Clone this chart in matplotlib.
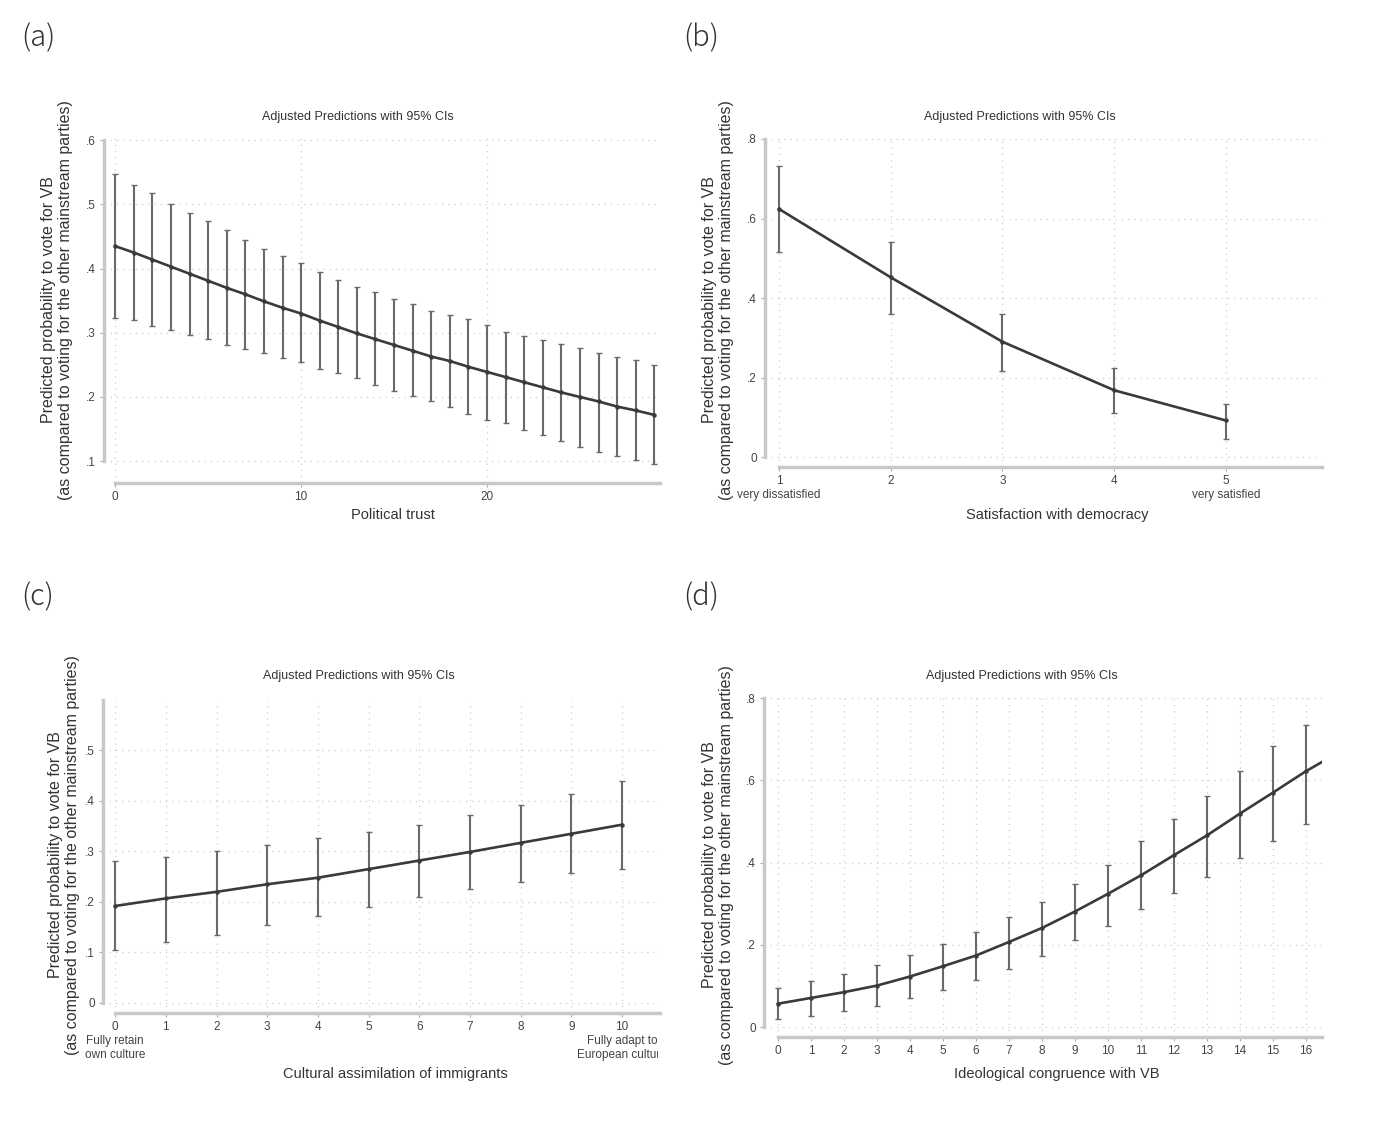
import numpy as np
import matplotlib.pyplot as plt
from matplotlib.transforms import Bbox, TransformedBbox

plt.rcParams['font.family'] = ['Liberation Sans', 'DejaVu Sans']

# (a) political trust
a_x = list(range(30))
a_mean = [0.435, 0.425, 0.414, 0.403, 0.392, 0.381, 0.370, 0.360, 0.349, 0.339,
          0.330, 0.319, 0.309, 0.299, 0.290, 0.281, 0.272, 0.263, 0.256, 0.247,
          0.239, 0.231, 0.223, 0.215, 0.207, 0.200, 0.193, 0.185, 0.179, 0.172]
a_hi = [0.547, 0.530, 0.518, 0.500, 0.487, 0.474, 0.460, 0.444, 0.430, 0.419,
        0.408, 0.395, 0.383, 0.371, 0.364, 0.353, 0.345, 0.334, 0.327, 0.321,
        0.312, 0.302, 0.295, 0.289, 0.282, 0.277, 0.269, 0.263, 0.257, 0.250]
a_lo = [0.323, 0.320, 0.311, 0.305, 0.297, 0.291, 0.281, 0.275, 0.268, 0.261,
        0.254, 0.243, 0.237, 0.229, 0.219, 0.210, 0.202, 0.193, 0.184, 0.173,
        0.164, 0.159, 0.148, 0.140, 0.132, 0.122, 0.115, 0.108, 0.102, 0.095]

# (b) satisfaction with democracy
b_x = [1, 2, 3, 4, 5]
b_mean = [0.624, 0.452, 0.290, 0.168, 0.092]
b_hi = [0.731, 0.542, 0.361, 0.224, 0.134]
b_lo = [0.515, 0.361, 0.217, 0.111, 0.046]

# (c) cultural assimilation
c_x = list(range(11))
c_mean = [0.192, 0.207, 0.220, 0.235, 0.248, 0.265, 0.282, 0.299, 0.317, 0.335, 0.353]
c_hi = [0.281, 0.290, 0.300, 0.312, 0.326, 0.339, 0.353, 0.372, 0.392, 0.414, 0.439]
c_lo = [0.104, 0.120, 0.135, 0.155, 0.173, 0.190, 0.210, 0.225, 0.240, 0.257, 0.266]

# (d) ideological congruence (line runs on past the last CI, to the frame edge)
d_x = list(range(17))
d_mean = [0.057, 0.071, 0.085, 0.101, 0.123, 0.148, 0.174, 0.207, 0.241, 0.281,
          0.324, 0.369, 0.418, 0.466, 0.519, 0.570, 0.622]
d_hi = [0.096, 0.111, 0.130, 0.152, 0.176, 0.201, 0.231, 0.268, 0.304, 0.349,
        0.395, 0.452, 0.505, 0.563, 0.622, 0.683, 0.735]
d_lo = [0.020, 0.026, 0.038, 0.051, 0.071, 0.091, 0.114, 0.142, 0.172, 0.211,
        0.246, 0.288, 0.326, 0.366, 0.412, 0.452, 0.494]
d_tail_x = 17
d_tail_y = 0.668

title = "Adjusted Predictions with 95% CIs"
ylab = ("Predicted probability to vote for VB\n"
        "(as compared to voting for the other mainstream parties)")

W, H = 1381, 1123
fig = plt.figure(figsize=(W / 100, H / 100), dpi=100)


def box(l, t, r, b):
    return [l / W, 1 - b / H, (r - l) / W, (b - t) / H]


def panel(rect, x, mean, lo, hi, xlim, ylim, yticks, ylabels, xticks, xlabels,
          ybounds, line_x=None, line_y=None):
    ax = fig.add_axes(rect)
    lx = x if line_x is None else line_x
    ly = mean if line_y is None else line_y
    yerr = [np.array(mean) - np.array(lo), np.array(hi) - np.array(mean)]
    ax.errorbar(x, mean, yerr=yerr, fmt='none', ecolor='#6a6a6a',
                elinewidth=1.5, capsize=2.5, capthick=1.0, zorder=3)
    ax.plot(lx, ly, color='#3a3a3a', lw=1.9, zorder=4)
    ax.plot(x, mean, 'o', color='#3a3a3a', ms=2.2, zorder=5)
    ax.set_xlim(*xlim)
    ax.set_ylim(*ylim)
    ax.set_yticks(yticks, ylabels)
    ax.set_xticks(xticks, xlabels)
    ax.grid(True, color='#cfcfcf', linestyle=(0, (1, 4)), linewidth=0.9)
    for s in ['top', 'right']:
        ax.spines[s].set_visible(False)
    for s in ['left', 'bottom']:
        ax.spines[s].set_color('#c8c8c8')
        ax.spines[s].set_linewidth(2.5)
    ax.spines['left'].set_bounds(*ybounds)
    ax.spines['bottom'].set_bounds(xticks[0], xlim[1])
    ax.tick_params(length=3, width=0.8, color='#aaaaaa', labelsize=8.5,
                   labelcolor='#444444', pad=3)
    return ax


fs_title, fs_lab, fs_y = 9, 10.5, 11.5

# (a)
panel(box(104, 137, 660, 483), a_x, a_mean, a_lo, a_hi, (-0.6, 29.3), (0.066, 0.605),
      [0.1, 0.2, 0.3, 0.4, 0.5, 0.6], ['.1', '.2', '.3', '.4', '.5', '.6'],
      [0, 10, 20], ['0', '10', '20'], (0.1, 0.6))
fig.text(358 / W, 1 - 117 / H, title, ha='center', va='center', fontsize=fs_title, color='#333333')
fig.text(393 / W, 1 - 515 / H, "Political trust", ha='center', va='center', fontsize=fs_lab, color='#333333')
fig.text(57 / W, 1 - 300 / H, ylab, rotation=90, ha='center', va='center', fontsize=fs_y, color='#333333')

# (b)
panel(box(765, 137, 1322, 467), b_x, b_mean, b_lo, b_hi, (0.875, 5.86), (-0.025, 0.805),
      [0, 0.2, 0.4, 0.6, 0.8], ['0', '.2', '.4', '.6', '.8'],
      [1, 2, 3, 4, 5], ['1\nvery dissatisfied', '2', '3', '4', '5\nvery satisfied'], (0, 0.8))
fig.text(1020 / W, 1 - 117 / H, title, ha='center', va='center', fontsize=fs_title, color='#333333')
fig.text(1057 / W, 1 - 515 / H, "Satisfaction with democracy", ha='center', va='center', fontsize=fs_lab, color='#333333')
fig.text(718 / W, 1 - 300 / H, ylab, rotation=90, ha='center', va='center', fontsize=fs_y, color='#333333')

# (c)
axc = panel(box(103, 700, 660, 1013), c_x, c_mean, c_lo, c_hi, (-0.24, 10.75), (-0.02, 0.6),
            [0, 0.1, 0.2, 0.3, 0.4, 0.5], ['0', '.1', '.2', '.3', '.4', '.5'],
            c_x, ['0\nFully retain\nown culture'] + [str(v) for v in c_x[1:-1]]
            + ['10\nFully adapt to\nEuropean culture'], (0, 0.6))
clip = TransformedBbox(Bbox([[0, 0], [658 / W, 1]]), fig.transFigure)
for t in axc.get_xticklabels():
    t.set_clip_box(clip)
    t.set_clip_on(True)
fig.text(359 / W, 1 - 676 / H, title, ha='center', va='center', fontsize=fs_title, color='#333333')
fig.text(395 / W, 1 - 1074 / H, "Cultural assimilation of immigrants", ha='center', va='center', fontsize=fs_lab, color='#333333')
fig.text(64 / W, 1 - 855 / H, ylab, rotation=90, ha='center', va='center', fontsize=fs_y, color='#333333')

# (d)
panel(box(764, 696, 1322, 1037), d_x, d_mean, d_lo, d_hi, (-0.425, 16.49), (-0.024, 0.805),
      [0, 0.2, 0.4, 0.6, 0.8], ['0', '.2', '.4', '.6', '.8'],
      d_x, [str(v) for v in d_x], (0, 0.8),
      line_x=d_x + [d_tail_x], line_y=d_mean + [d_tail_y])
fig.text(1022 / W, 1 - 676 / H, title, ha='center', va='center', fontsize=fs_title, color='#333333')
fig.text(1057 / W, 1 - 1074 / H, "Ideological congruence with VB", ha='center', va='center', fontsize=fs_lab, color='#333333')
fig.text(718 / W, 1 - 865 / H, ylab, rotation=90, ha='center', va='center', fontsize=fs_y, color='#333333')

# panel letters
for lab, px, py in [('(a)', 38, 38), ('(b)', 701, 38), ('(c)', 38, 597), ('(d)', 701, 597)]:
    fig.text(px / W, 1 - py / H, lab, ha='center', va='center', fontsize=21,
             color='#333333', family=['Noto Sans CJK JP', 'DejaVu Sans'], fontweight='light')

fig.savefig('out.png', dpi=100)
